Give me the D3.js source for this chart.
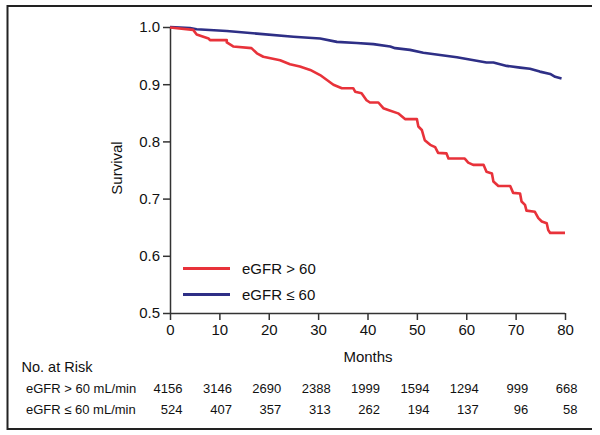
<!DOCTYPE html>
<html><head><meta charset="utf-8">
<script src="https://cdn.jsdelivr.net/npm/d3@7"></script>
<style>
html,body{margin:0;padding:0;background:#fff;}
svg{display:block;font-family:"Liberation Sans",Arial,Helvetica,sans-serif;}
</style></head>
<body>
<svg id="chart" width="600" height="435"></svg>
<script>
// ---- data ----
const seriesNames = ["eGFR > 60", "eGFR ≤ 60"];
const seriesColors = ["#e8323a", "#2e2f86"];
const redMonths = [0,4.7,5.4,7.8,8.1,11.5,11.5,12.8,16.5,17.6,18.9,22.3,24.3,26.3,28.4,30.4,33.1,34.8,37.1,37.5,38.8,39.8,40.5,42.2,43.2,44.2,46.2,47.6,50.0,50.3,51.0,51.6,52.7,53.7,54.3,56.0,56.4,59.7,60.4,61.4,63.5,64.1,65.2,65.5,66.5,68.9,69.5,70.9,71.2,71.9,72.2,73.9,74.6,75.3,76.3,76.6,77.0,80];
const redSurvival = [0.999,0.995,0.987,0.980,0.977,0.977,0.973,0.966,0.963,0.954,0.948,0.942,0.935,0.931,0.925,0.916,0.899,0.893,0.893,0.887,0.884,0.872,0.868,0.868,0.858,0.855,0.849,0.839,0.839,0.826,0.820,0.802,0.794,0.790,0.780,0.779,0.770,0.770,0.763,0.759,0.759,0.747,0.744,0.730,0.722,0.722,0.710,0.709,0.695,0.689,0.679,0.677,0.666,0.660,0.657,0.645,0.640,0.640];
const blueMonths = [0,4.05,5.4,11.5,18.2,25.0,30.4,33.8,37.8,41.2,44.6,45.6,48.6,51.3,54.7,58.1,62.1,64.1,65.5,68.2,70.9,72.9,74.9,77.0,78.0,79.3];
const blueSurvival = [1.0,0.998,0.996,0.993,0.988,0.983,0.980,0.974,0.972,0.970,0.966,0.963,0.960,0.955,0.951,0.947,0.941,0.938,0.938,0.932,0.929,0.927,0.922,0.918,0.913,0.910];
const xTicks = [0,10,20,30,40,50,60,70,80];
const yTicks = [0.5,0.6,0.7,0.8,0.9,1.0];
const riskLabels = ["eGFR > 60 mL/min", "eGFR ≤ 60 mL/min"];
const riskHigh = [4156,3146,2690,2388,1999,1594,1294,999,668];
const riskLow = [524,407,357,313,262,194,137,96,58];

// ---- drawing ----
const svg = d3.select("#chart");
const x = d3.scaleLinear().domain([0,80]).range([170,565]);
const y = d3.scaleLinear().domain([0.5,1.0]).range([313,27]);
const axisColor = "#333";

// frame (left, top, bottom)
svg.append("path")
  .attr("d","M592,6 H7.5 V429 H592")
  .attr("fill","none").attr("stroke","#222").attr("stroke-width",2);

// axes
const xAxis = svg.append("g").attr("transform","translate(0,313)")
  .call(d3.axisBottom(x).tickValues(xTicks).tickSize(7).tickPadding(4).tickFormat(d3.format("d")));
const yAxis = svg.append("g").attr("transform","translate(170,0)")
  .call(d3.axisLeft(y).tickValues(yTicks).tickSize(7).tickPadding(3).tickFormat(d3.format(".1f")));
[xAxis,yAxis].forEach(g=>{
  g.select(".domain").attr("stroke",axisColor).attr("stroke-width",1.5);
  g.selectAll(".tick line").attr("stroke",axisColor).attr("stroke-width",1.5);
  g.selectAll(".tick text").attr("fill","#111").style("font-size","15px")
    .style("font-family","'Liberation Sans',Arial,sans-serif");
});
// remove domain outer ticks: redraw domain as plain lines
xAxis.select(".domain").attr("d","M170,0.5H565");
yAxis.select(".domain").attr("d","M0.5,313V27");

// axis titles
svg.append("text").attr("x",368).attr("y",362).attr("text-anchor","middle")
  .style("font-size","15px").attr("fill","#111").text("Months");
svg.append("text").attr("transform","translate(122,168) rotate(-90)").attr("text-anchor","middle")
  .style("font-size","15px").attr("fill","#111").text("Survival");

// curves
const line = d3.line().x(d=>x(d[0])).y(d=>y(d[1]));
const blueData = blueMonths.map((m,i)=>[m,blueSurvival[i]]);
const redData = redMonths.map((m,i)=>[m,redSurvival[i]]);
svg.append("path").datum(blueData).attr("d",line).attr("fill","none")
  .attr("stroke",seriesColors[1]).attr("stroke-width",2.6).attr("stroke-linejoin","round");
svg.append("path").datum(redData).attr("d",line).attr("fill","none")
  .attr("stroke",seriesColors[0]).attr("stroke-width",2.6).attr("stroke-linejoin","round");

// legend
const legend = svg.append("g");
seriesNames.forEach((name,i)=>{
  const ly = 268.5 + i*26;
  legend.append("line").attr("x1",183).attr("x2",230).attr("y1",ly).attr("y2",ly)
    .attr("stroke",seriesColors[i]).attr("stroke-width",3);
  legend.append("text").attr("x",242).attr("y",ly+5.5).style("font-size","15px")
    .attr("fill","#111").text(name);
});

// number at risk table
svg.append("text").attr("x",21.5).attr("y",372).style("font-size","14.5px")
  .attr("fill","#111").text("No. at Risk");
[riskHigh, riskLow].forEach((row,r)=>{
  const by = 392.5 + r*21;
  svg.append("text").attr("x",26).attr("y",by).style("font-size","13px")
    .attr("fill","#111").text(riskLabels[r]);
  svg.selectAll(null).data(row).enter().append("text")
    .attr("x",(d,i)=>x(xTicks[i])+12.5).attr("y",by)
    .attr("text-anchor","end").style("font-size","13px").attr("fill","#111")
    .text(d=>d);
});
</script>
</body></html>
